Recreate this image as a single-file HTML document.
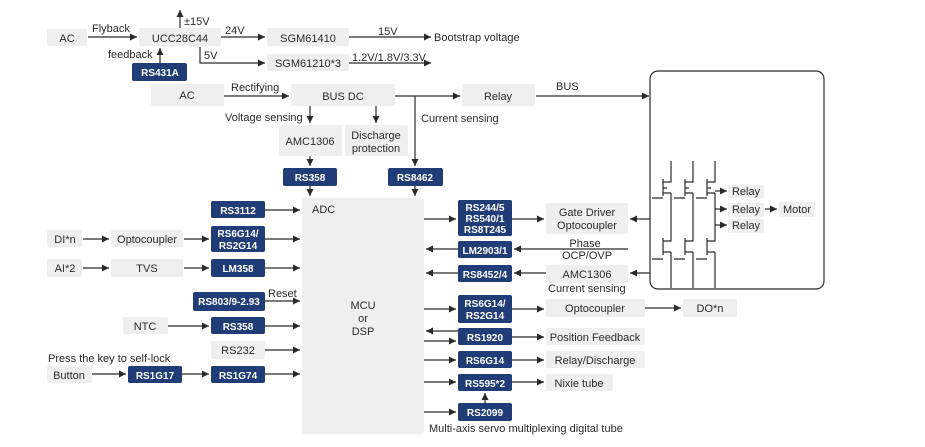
<!DOCTYPE html>
<html><head><meta charset="utf-8"><style>
html,body{margin:0;padding:0;background:#fff;}
svg{display:block;font-family:"Liberation Sans",sans-serif;}
text{font-size:11px;fill:#2a2a2a;}
.w{fill:#fff;font-size:10px;font-weight:bold;}
.g{fill:#efefef;}
.b{fill:#213d78;}
line,polyline,path{stroke:#2a2a2a;stroke-width:1.2;fill:none;}
</style></head><body>
<svg width="925" height="447" viewBox="0 0 925 447">
<defs><marker id="a" markerWidth="8" markerHeight="8" refX="7" refY="4" orient="auto" markerUnits="userSpaceOnUse"><path d="M0,0.5 L7,4 L0,7.5 Z" style="fill:#2a2a2a;stroke:none"/></marker></defs>

<!-- top power -->
<rect class="g" x="47" y="29" width="40" height="17" rx="2"/><text x="67" y="42" text-anchor="middle">AC</text>
<line x1="88" y1="37" x2="137" y2="37" marker-end="url(#a)"/><text x="92" y="32">Flyback</text>
<rect class="g" x="139" y="28" width="82" height="18" rx="2"/><text x="180" y="42" text-anchor="middle">UCC28C44</text>
<line x1="180" y1="28" x2="180" y2="10" marker-end="url(#a)"/><text x="184" y="25">±15V</text>
<line x1="221" y1="37" x2="265" y2="37" marker-end="url(#a)"/><text x="225" y="34">24V</text>
<rect class="g" x="267" y="28" width="82" height="18" rx="2"/><text x="308" y="42" text-anchor="middle">SGM61410</text>
<line x1="349" y1="37" x2="431" y2="37" marker-end="url(#a)"/><text x="378" y="35">15V</text><text x="434" y="41">Bootstrap voltage</text>
<text x="108" y="58">feedback</text>
<rect class="b" x="132" y="63" width="55" height="18" rx="2"/><text class="w" x="160" y="76" text-anchor="middle">RS431A</text>
<line x1="160" y1="63" x2="160" y2="48" marker-end="url(#a)"/>
<polyline points="200,47 200,63 265,63" marker-end="url(#a)"/><text x="204" y="59">5V</text>
<rect class="g" x="267" y="54" width="82" height="17" rx="2"/><text x="308" y="67" text-anchor="middle">SGM61210*3</text>
<line x1="349" y1="63" x2="431" y2="63" marker-end="url(#a)"/><text x="352" y="61">1.2V/1.8V/3.3V</text>

<rect class="g" x="151" y="84" width="73" height="22" rx="2"/><text x="187" y="99" text-anchor="middle">AC</text>
<line x1="224" y1="96" x2="289" y2="96" marker-end="url(#a)"/><text x="231" y="91">Rectifying</text>
<rect class="g" x="291" y="84" width="104" height="22" rx="2"/><text x="343" y="100" text-anchor="middle">BUS DC</text>
<line x1="395" y1="96" x2="460" y2="96" marker-end="url(#a)"/>
<rect class="g" x="462" y="84" width="73" height="22" rx="2"/><text x="498" y="100" text-anchor="middle">Relay</text>
<line x1="536" y1="96" x2="649" y2="96" marker-end="url(#a)"/><text x="556" y="90">BUS</text>
<line x1="415" y1="96" x2="415" y2="166" marker-end="url(#a)"/><text x="421" y="122">Current sensing</text>
<text x="225" y="121">Voltage sensing</text>
<line x1="310" y1="106" x2="310" y2="123" marker-end="url(#a)"/>
<line x1="376" y1="106" x2="376" y2="123" marker-end="url(#a)"/>
<rect class="g" x="279" y="125" width="63" height="31" rx="2"/><text x="310" y="145" text-anchor="middle">AMC1306</text>
<rect class="g" x="345" y="125" width="63" height="31" rx="2"/><text x="376" y="139" text-anchor="middle">Discharge</text><text x="376" y="152" text-anchor="middle">protection</text>
<line x1="310" y1="156" x2="310" y2="166" marker-end="url(#a)"/>
<rect class="b" x="283" y="168" width="54" height="18" rx="2"/><text class="w" x="310" y="181" text-anchor="middle">RS358</text>
<rect class="b" x="388" y="168" width="55" height="18" rx="2"/><text class="w" x="415" y="181" text-anchor="middle">RS8462</text>
<line x1="310" y1="186" x2="310" y2="196" marker-end="url(#a)"/>
<line x1="415" y1="186" x2="415" y2="196" marker-end="url(#a)"/>

<!-- MCU -->
<rect class="g" x="302" y="198" width="122" height="236" rx="3"/>
<text x="312" y="213">ADC</text>
<text x="363" y="309" text-anchor="middle">MCU</text><text x="363" y="322" text-anchor="middle">or</text><text x="363" y="335" text-anchor="middle">DSP</text>

<!-- left -->
<rect class="b" x="211" y="201" width="54" height="17" rx="2"/><text class="w" x="238" y="214" text-anchor="middle">RS3112</text>
<line x1="265" y1="210" x2="300" y2="210" marker-end="url(#a)"/>
<rect class="g" x="47" y="230" width="35" height="17" rx="2"/><text x="65" y="243" text-anchor="middle">DI*n</text>
<line x1="83" y1="239" x2="109" y2="239" marker-end="url(#a)"/>
<rect class="g" x="111" y="230" width="72" height="17" rx="2"/><text x="147" y="243" text-anchor="middle">Optocoupler</text>
<line x1="184" y1="239" x2="209" y2="239" marker-end="url(#a)"/>
<rect class="b" x="211" y="226" width="54" height="26" rx="2"/><text class="w" x="238" y="237" text-anchor="middle">RS6G14/</text><text class="w" x="238" y="249" text-anchor="middle">RS2G14</text>
<line x1="265" y1="239" x2="300" y2="239" marker-end="url(#a)"/>
<rect class="g" x="47" y="259" width="35" height="18" rx="2"/><text x="65" y="272" text-anchor="middle">AI*2</text>
<line x1="83" y1="268" x2="109" y2="268" marker-end="url(#a)"/>
<rect class="g" x="111" y="259" width="72" height="18" rx="2"/><text x="147" y="272" text-anchor="middle">TVS</text>
<line x1="184" y1="268" x2="209" y2="268" marker-end="url(#a)"/>
<rect class="b" x="211" y="259" width="54" height="18" rx="2"/><text class="w" x="238" y="272" text-anchor="middle">LM358</text>
<line x1="265" y1="268" x2="300" y2="268" marker-end="url(#a)"/>
<rect class="b" x="193" y="292" width="72" height="19" rx="2"/><text class="w" x="229" y="305" text-anchor="middle">RS803/9-2.93</text>
<line x1="265" y1="301" x2="300" y2="301" marker-end="url(#a)"/><text x="268" y="297">Reset</text>
<rect class="g" x="123" y="317" width="45" height="17" rx="2"/><text x="145" y="330" text-anchor="middle">NTC</text>
<line x1="168" y1="326" x2="209" y2="326" marker-end="url(#a)"/>
<rect class="b" x="211" y="317" width="54" height="17" rx="2"/><text class="w" x="238" y="330" text-anchor="middle">RS358</text>
<line x1="265" y1="326" x2="300" y2="326" marker-end="url(#a)"/>
<rect class="g" x="211" y="341" width="54" height="18" rx="2"/><text x="238" y="354" text-anchor="middle">RS232</text>
<line x1="265" y1="350" x2="300" y2="350" marker-end="url(#a)"/>
<text x="48" y="362">Press the key to self-lock</text>
<rect class="g" x="47" y="366" width="45" height="17" rx="2"/><text x="69" y="379" text-anchor="middle">Button</text>
<line x1="92" y1="374" x2="126" y2="374" marker-end="url(#a)"/>
<rect class="b" x="128" y="366" width="54" height="17" rx="2"/><text class="w" x="155" y="379" text-anchor="middle">RS1G17</text>
<line x1="182" y1="374" x2="209" y2="374" marker-end="url(#a)"/>
<rect class="b" x="211" y="366" width="54" height="17" rx="2"/><text class="w" x="238" y="379" text-anchor="middle">RS1G74</text>
<line x1="265" y1="374" x2="300" y2="374" marker-end="url(#a)"/>

<!-- right -->
<line x1="424" y1="219" x2="456" y2="219" marker-end="url(#a)"/>
<rect class="b" x="458" y="200" width="54" height="36" rx="2"/><text class="w" x="485" y="211" text-anchor="middle">RS244/5</text><text class="w" x="485" y="222" text-anchor="middle">RS540/1</text><text class="w" x="485" y="233" text-anchor="middle">RS8T245</text>
<line x1="512" y1="219" x2="544" y2="219" marker-end="url(#a)"/>
<rect class="g" x="546" y="203" width="82" height="31" rx="2"/><text x="587" y="216" text-anchor="middle">Gate Driver</text><text x="587" y="229" text-anchor="middle">Optocoupler</text>
<line x1="650" y1="219" x2="630" y2="219" marker-end="url(#a)"/>
<rect class="b" x="458" y="241" width="54" height="17" rx="2"/><text class="w" x="485" y="254" text-anchor="middle">LM2903/1</text>
<line x1="628" y1="249" x2="514" y2="249" marker-end="url(#a)"/>
<line x1="458" y1="249" x2="426" y2="249" marker-end="url(#a)"/>
<text x="585" y="247" text-anchor="middle">Phase</text><text x="587" y="259" text-anchor="middle">OCP/OVP</text>
<rect class="b" x="458" y="265" width="54" height="17" rx="2"/><text class="w" x="485" y="278" text-anchor="middle">RS8452/4</text>
<line x1="546" y1="273" x2="514" y2="273" marker-end="url(#a)"/>
<line x1="458" y1="273" x2="426" y2="273" marker-end="url(#a)"/>
<rect class="g" x="546" y="265" width="82" height="18" rx="2"/><text x="587" y="278" text-anchor="middle">AMC1306</text>
<line x1="650" y1="273" x2="630" y2="273" marker-end="url(#a)"/>
<text x="548" y="292">Current sensing</text>

<!-- inverter box -->
<rect x="650" y="71" width="174" height="218" rx="8" style="fill:none;stroke:#2a2a2a;stroke-width:1.2"/>
<g>
<path d="M671,161 V182 H663 M663,179 V196 M671,193 H663 M671,193 V241 H663 M663,238 V255 M671,252 H663 M671,252 V288 M652,198 H663 M652,259 H663 M667,188 H663"/>
<path d="M693,161 V182 H685 M685,179 V196 M693,193 H685 M693,193 V241 H685 M685,238 V255 M693,252 H685 M693,252 V288 M674,198 H685 M674,259 H685 M689,188 H685"/>
<path d="M715,161 V182 H707 M707,179 V196 M715,193 H707 M715,193 V241 H707 M707,238 V255 M715,252 H707 M715,252 V288 M696,198 H707 M696,259 H707 M711,188 H707"/>
</g>
<line x1="715" y1="191" x2="727" y2="191" marker-end="url(#a)"/>
<line x1="715" y1="209" x2="727" y2="209" marker-end="url(#a)"/>
<line x1="715" y1="225" x2="727" y2="225" marker-end="url(#a)"/>
<rect class="g" x="728" y="185" width="36" height="13" rx="2"/><text x="746" y="195" text-anchor="middle">Relay</text>
<rect class="g" x="728" y="203" width="36" height="14" rx="2"/><text x="746" y="213" text-anchor="middle">Relay</text>
<rect class="g" x="728" y="219" width="36" height="14" rx="2"/><text x="746" y="229" text-anchor="middle">Relay</text>
<line x1="765" y1="209" x2="777" y2="209" marker-end="url(#a)"/>
<rect class="g" x="779" y="202" width="36" height="15" rx="2"/><text x="797" y="213" text-anchor="middle">Motor</text>

<!-- bottom right -->
<line x1="424" y1="309" x2="456" y2="309" marker-end="url(#a)"/>
<rect class="b" x="458" y="295" width="54" height="28" rx="2"/><text class="w" x="485" y="307" text-anchor="middle">RS6G14/</text><text class="w" x="485" y="319" text-anchor="middle">RS2G14</text>
<line x1="512" y1="309" x2="544" y2="309" marker-end="url(#a)"/>
<rect class="g" x="546" y="299" width="99" height="18" rx="2"/><text x="595" y="312" text-anchor="middle">Optocoupler</text>
<line x1="645" y1="308" x2="681" y2="308" marker-end="url(#a)"/>
<rect class="g" x="683" y="299" width="54" height="18" rx="2"/><text x="710" y="312" text-anchor="middle">DO*n</text>
<line x1="458" y1="331" x2="426" y2="331" marker-end="url(#a)"/>
<line x1="424" y1="341" x2="456" y2="341" marker-end="url(#a)"/>
<rect class="b" x="458" y="328" width="54" height="17" rx="2"/><text class="w" x="485" y="341" text-anchor="middle">RS1920</text>
<line x1="512" y1="337" x2="544" y2="337" marker-end="url(#a)"/>
<rect class="g" x="546" y="328" width="99" height="17" rx="2"/><text x="595" y="341" text-anchor="middle">Position Feedback</text>
<line x1="424" y1="360" x2="456" y2="360" marker-end="url(#a)"/>
<rect class="b" x="458" y="351" width="54" height="17" rx="2"/><text class="w" x="485" y="364" text-anchor="middle">RS6G14</text>
<line x1="512" y1="360" x2="544" y2="360" marker-end="url(#a)"/>
<rect class="g" x="546" y="351" width="99" height="17" rx="2"/><text x="595" y="364" text-anchor="middle">Relay/Discharge</text>
<line x1="424" y1="382" x2="456" y2="382" marker-end="url(#a)"/>
<rect class="b" x="458" y="374" width="54" height="17" rx="2"/><text class="w" x="485" y="387" text-anchor="middle">RS595*2</text>
<line x1="512" y1="382" x2="544" y2="382" marker-end="url(#a)"/>
<rect class="g" x="546" y="374" width="67" height="17" rx="2"/><text x="579" y="387" text-anchor="middle">Nixie tube</text>
<line x1="485" y1="403" x2="485" y2="393" marker-end="url(#a)"/>
<line x1="424" y1="412" x2="456" y2="412" marker-end="url(#a)"/>
<rect class="b" x="458" y="403" width="54" height="18" rx="2"/><text class="w" x="485" y="416" text-anchor="middle">RS2099</text>
<text x="429" y="432">Multi-axis servo multiplexing digital tube</text>
</svg>
</body></html>
